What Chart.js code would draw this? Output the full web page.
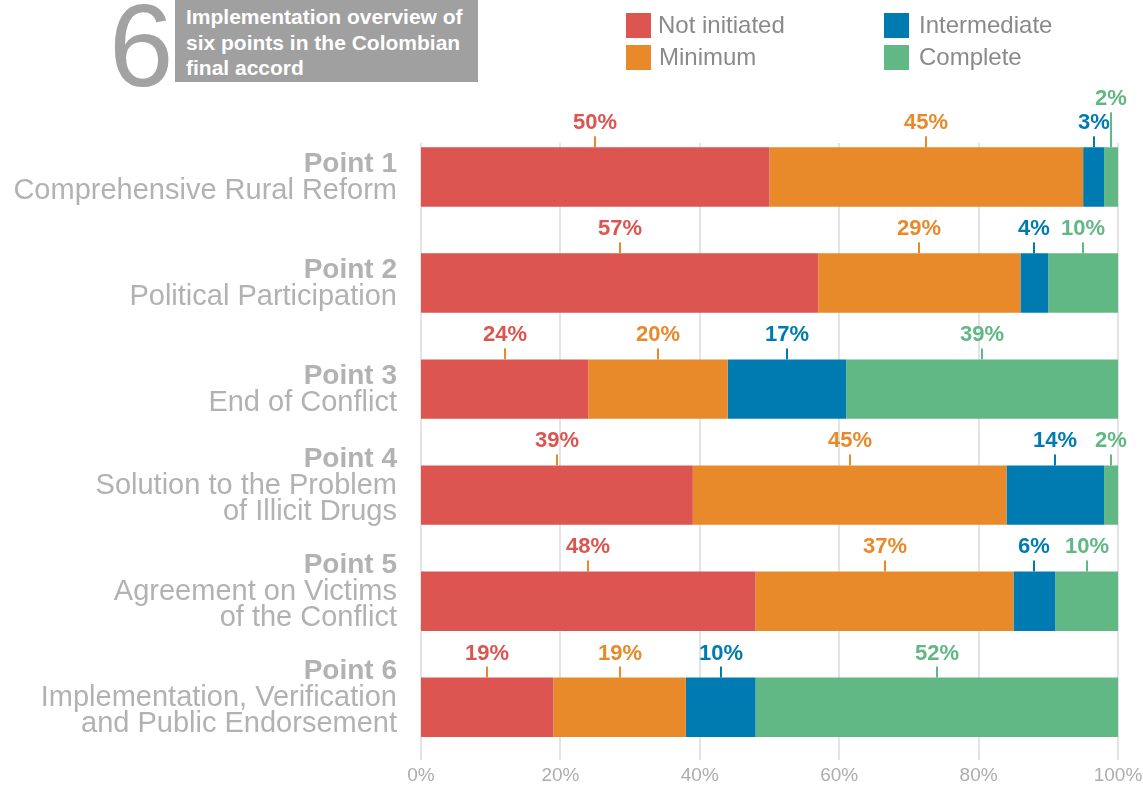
<!DOCTYPE html>
<html>
<head>
<meta charset="utf-8">
<script src="https://cdn.jsdelivr.net/npm/chart.js@4.4.0/dist/chart.umd.min.js"></script>
<style>
  html, body { margin: 0; padding: 0; background: #ffffff; }
  body { width: 1143px; height: 792px; position: relative; overflow: hidden; font-family: 'Liberation Sans', Arial, sans-serif; }
  #chart { position: absolute; left: 0; top: 0; }
  #bigNum { position: absolute; left: 109px; top: -12px; font-size: 116px; line-height: 1; color: #a2a2a2; }
  #titleBox { position: absolute; left: 175px; top: 0; width: 292px; height: 78px; padding: 4px 0 0 11px; background: #a0a0a0; color: #ffffff; font-weight: bold; font-size: 21px; line-height: 25.5px; white-space: nowrap; }
  .lg { position: absolute; display: flex; align-items: center; font-size: 24px; color: #8a8a8a; height: 26px; }
  .lg span.sw { display: inline-block; width: 25px; height: 25px; }
</style>
</head>
<body>
<canvas id="chart" width="1143" height="792"></canvas>
<div id="bigNum">6</div>
<div id="titleBox"></div>
<div id="legend"></div>
<script>
// ---- data ----
const titleLines = ['Implementation overview of', 'six points in the Colombian', 'final accord'];
const categories = ['Point 1', 'Point 2', 'Point 3', 'Point 4', 'Point 5', 'Point 6'];
const categoryDescriptions = [
  ['Comprehensive Rural Reform'],
  ['Political Participation'],
  ['End of Conflict'],
  ['Solution to the Problem', 'of Illicit Drugs'],
  ['Agreement on Victims', 'of the Conflict'],
  ['Implementation, Verification', 'and Public Endorsement']
];
const seriesNames = ['Not initiated', 'Minimum', 'Intermediate', 'Complete'];
const notInitiated = [50, 57, 24, 39, 48, 19];
const minimum      = [45, 29, 20, 45, 37, 19];
const intermediate = [3, 4, 17, 14, 6, 10];
const complete     = [2, 10, 39, 2, 10, 52];
const xTickValues  = [0, 20, 40, 60, 80, 100];

// ---- styles ----
const FONT = "'Liberation Sans', Arial, sans-serif";
const colors = ['#dc5550', '#e8892a', '#007bb1', '#62b884'];
const tickColors = ['#e8892a', '#e8892a', '#007bb1', '#62b884'];
const seriesValues = [notInitiated, minimum, intermediate, complete];

// title + legend (HTML text)
document.getElementById('titleBox').innerHTML = titleLines.join('<br>');
const legendPos = [[626, 12, 7], [626, 44, 8], [884, 12, 10], [884, 44, 10]];
const lgRoot = document.getElementById('legend');
seriesNames.forEach((n, i) => {
  const d = document.createElement('div');
  d.className = 'lg';
  d.style.left = legendPos[i][0] + 'px';
  d.style.top = legendPos[i][1] + 'px';
  d.innerHTML = '<span class="sw" style="background:' + colors[i] + ';margin-right:' + legendPos[i][2] + 'px"></span>' + n;
  lgRoot.appendChild(d);
});

const gridPlugin = {
  id: 'customGrid',
  beforeDatasetsDraw(chart) {
    const { ctx, chartArea, scales } = chart;
    ctx.save();
    ctx.strokeStyle = '#e4e4e4';
    ctx.lineWidth = 2;
    xTickValues.forEach(v => {
      const x = Math.round(scales.x.getPixelForValue(v));
      ctx.beginPath();
      ctx.moveTo(x, chartArea.top + 19);
      ctx.lineTo(x, chartArea.bottom);
      ctx.stroke();
    });
    ctx.restore();
  }
};

const categoryLabelPlugin = {
  id: 'categoryLabels',
  afterDraw(chart) {
    const { ctx, scales } = chart;
    ctx.save();
    ctx.textAlign = 'right';
    ctx.textBaseline = 'middle';
    ctx.fillStyle = '#b2b2b2';
    categories.forEach((c, i) => {
      const yc = scales.y.getPixelForValue(i);
      const lines = [c].concat(categoryDescriptions[i]);
      const n = lines.length;
      let y = yc - 13 - (n - 2) * 23;
      lines.forEach((ln, k) => {
        ctx.font = (k === 0 ? 'bold 28px ' : '29px ') + FONT;
        ctx.fillText(ln, 397, y);
        y += (n === 3 ? 26.5 : 27);
      });
    });
    ctx.restore();
  }
};

const valueLabelPlugin = {
  id: 'valueLabels',
  afterDatasetsDraw(chart) {
    const { ctx, chartArea } = chart;
    ctx.save();
    ctx.font = 'bold 22px ' + FONT;
    ctx.textAlign = 'center';
    ctx.textBaseline = 'alphabetic';
    categories.forEach((c, i) => {
      let prevRight = -Infinity;
      seriesValues.forEach((vals, d) => {
        const el = chart.getDatasetMeta(d).data[i];
        const x0 = Math.max(chartArea.left, Math.min(el.base, el.x));
        const x1 = Math.min(chartArea.right, Math.max(el.base, el.x));
        const mid = Math.round((x0 + x1) / 2);
        const top = el.y - el.height / 2;
        const txt = vals[i] + '%';
        const w = ctx.measureText(txt).width;
        let raise = 0;
        if (mid - w / 2 < prevRight + 2) raise = 24;
        prevRight = mid + w / 2;
        ctx.fillStyle = tickColors[d];
        ctx.fillRect(mid - 1, top - 11 - raise, 2, 11 + raise);
        ctx.fillStyle = colors[d];
        ctx.fillText(txt, mid, top - 18 - raise);
      });
    });
    ctx.restore();
  }
};

new Chart(document.getElementById('chart'), {
  type: 'bar',
  data: {
    labels: categories,
    datasets: seriesNames.map((n, i) => ({
      label: n,
      data: seriesValues[i],
      backgroundColor: colors[i],
      borderWidth: 0,
      barPercentage: 0.56,
      categoryPercentage: 1,
      clip: 0
    }))
  },
  options: {
    indexAxis: 'y',
    responsive: false,
    devicePixelRatio: 1,
    animation: false,
    layout: { padding: { left: 421, right: 25, top: 124, bottom: 0 } },
    plugins: { legend: { display: false }, tooltip: { enabled: false }, title: { display: false } },
    scales: {
      x: {
        stacked: true,
        min: 0, max: 100,
        afterBuildTicks(scale) { scale.ticks = xTickValues.map(v => ({ value: v })); },
        afterFit(scale) { scale.paddingRight = 0; scale.paddingLeft = 0; },
        grid: { display: false, drawTicks: false },
        border: { display: false },
        ticks: {
          padding: 4,
          color: '#adadad',
          font: { family: FONT, size: 19, lineHeight: 1.25 },
          callback: v => v + '%'
        }
      },
      y: { stacked: true, display: false }
    }
  },
  plugins: [gridPlugin, valueLabelPlugin, categoryLabelPlugin]
});
</script>
</body>
</html>
